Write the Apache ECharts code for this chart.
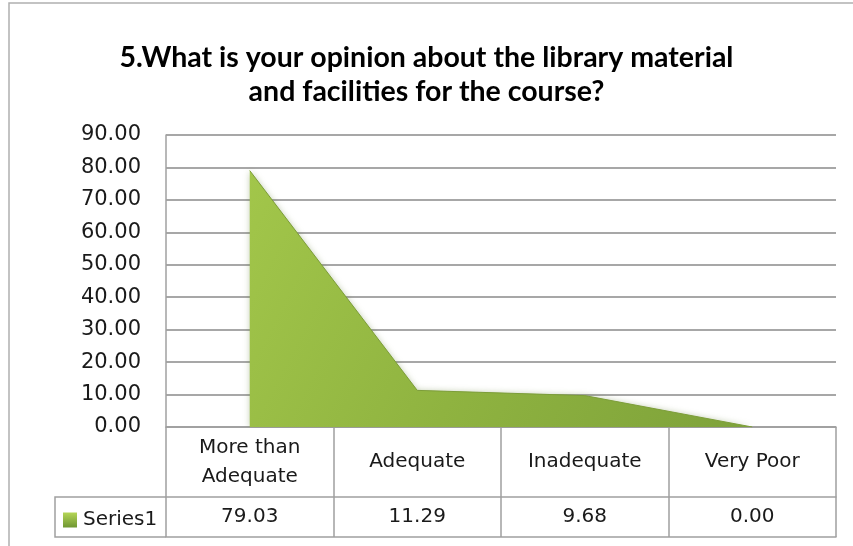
<!DOCTYPE html>
<html lang="en">
<head>
  <meta charset="UTF-8">
  <title>library material and facilities</title>
  <script src="https://cdn.jsdelivr.net/npm/echarts@6/dist/echarts.min.js"></script>
  <style>
    html, body { margin: 0; padding: 0; background: #fff; }
  </style>
</head>
<body>
<div id="main" style="width:853px;height:546px;"></div>
</body>
</html>
<script>
  //类别
  const categories = ['More than\nAdequate', 'Adequate', 'Inadequate', 'Very Poor'];
  //数值
  const series1 = [79.03, 11.29, 9.68, 0.00];
  //纵轴刻度
  const yMin = 0, yMax = 90, yStep = 10;

  const lineColor = '#a0a0a0';
  const textFont = 'DejaVu Sans';

  let myChart = echarts.init(document.getElementById('main'));
  let option = {
    animation: false,
    title: {
      text: '5.What is your opinion about the library material\nand facilities for the course?',
      left: 'center',
      top: 36,
      textStyle: {
        fontFamily: 'Lato',
        fontWeight: 'bold',
        fontSize: 28.5,
        lineHeight: 34,
        color: '#000'
      }
    },
    legend: {
      data: ['Series1'],
      left: 63,
      top: 510,
      padding: 0,
      icon: 'rect',
      itemWidth: 14,
      itemHeight: 15,
      itemGap: 0,
      textStyle: { fontFamily: textFont, fontSize: 20, color: '#1a1a1a', padding: [0, 0, 0, 1] }
    },
    grid: { left: 166, right: 17, top: 135, bottom: 119 },
    xAxis: [
      {
        type: 'category',
        data: categories,
        boundaryGap: true,
        axisLine: { lineStyle: { color: lineColor, width: 1.5 } },
        axisTick: { show: true, interval: 0, length: 70, lineStyle: { color: lineColor, width: 1.5 } },
        axisLabel: {
          interval: 0,
          margin: 35,
          verticalAlign: 'middle',
          lineHeight: 29,
          fontFamily: textFont,
          fontSize: 20,
          color: '#1a1a1a'
        }
      },
      {
        type: 'category',
        data: categories,
        position: 'bottom',
        offset: 70,
        boundaryGap: true,
        axisLine: { show: true, lineStyle: { color: lineColor, width: 1.5 } },
        axisTick: { show: true, interval: 0, length: 40, lineStyle: { color: lineColor, width: 1.5 } },
        axisLabel: {
          interval: 0,
          margin: 20,
          verticalAlign: 'middle',
          fontFamily: textFont,
          fontSize: 20,
          color: '#1a1a1a',
          formatter: (v, i) => series1[i].toFixed(2)
        }
      },
      {
        type: 'category',
        data: categories,
        position: 'bottom',
        offset: 110,
        axisLine: { show: true, lineStyle: { color: lineColor, width: 1.5 } },
        axisTick: { show: false },
        axisLabel: { show: false }
      }
    ],
    yAxis: {
      type: 'value',
      min: yMin,
      max: yMax,
      interval: yStep,
      axisLine: { show: true, lineStyle: { color: lineColor, width: 1.5 } },
      axisTick: { show: false },
      splitLine: { lineStyle: { color: '#8a8a8a', width: 1.5 } },
      axisLabel: {
        margin: 25,
        fontFamily: textFont,
        fontSize: 21,
        color: '#1a1a1a',
        formatter: (v) => v.toFixed(2)
      }
    },
    series: [
      {
        name: 'Series1',
        type: 'line',
        data: series1,
        symbol: 'none',
        lineStyle: { width: 1, color: '#7d9e3a' },
        itemStyle: {
          color: new echarts.graphic.LinearGradient(0, 0, 0, 1, [
            { offset: 0, color: '#b5d657' },
            { offset: 1, color: '#6f9632' }
          ])
        },
        areaStyle: {
          opacity: 1,
          shadowColor: 'rgba(80,110,30,0.35)',
          shadowBlur: 6,
          color: new echarts.graphic.LinearGradient(0, 0, 1, 1, [
            { offset: 0, color: '#a2c64a' },
            { offset: 0.5, color: '#8fb340' },
            { offset: 1, color: '#7ea23a' }
          ])
        }
      }
    ],
    graphic: [
      //外框
      { type: 'rect', shape: { x: 9, y: 3, width: 900, height: 600 }, style: { fill: null, stroke: '#b0b0b0', lineWidth: 1.5 }, silent: true },
      //Series1 单元格
      { type: 'polyline', shape: { points: [[166, 497], [55, 497], [55, 537], [166, 537]] }, style: { fill: null, stroke: lineColor, lineWidth: 1.5 }, silent: true }
    ]
  };
  myChart.setOption(option);
</script>
